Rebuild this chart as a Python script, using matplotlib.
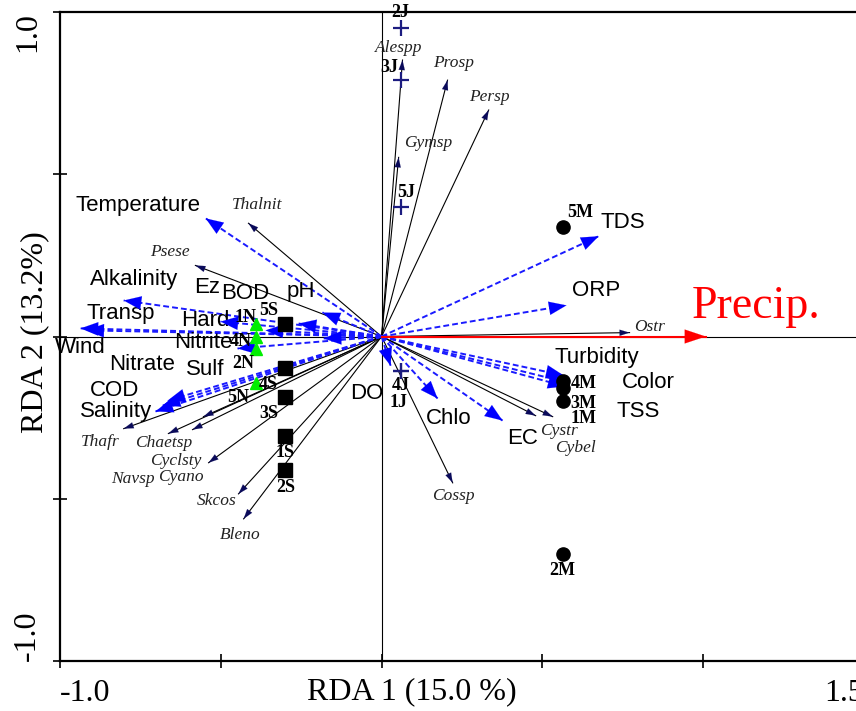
import matplotlib
matplotlib.use('Agg')
import matplotlib.pyplot as plt

serif = 'Liberation Serif'
sans = 'Liberation Sans'

# environmental variables: arrow tips and label centres (RDA1, RDA2)
env_names = ['Temperature', 'Alkalinity', 'Transp', 'Wind', 'Hard', 'Ez', 'BOD', 'pH',
             'Nitrite', 'Sulf', 'Nitrate', 'COD', 'Salinity', 'DO', 'Chlo', 'EC',
             'Turbidity', 'Color', 'TSS', 'TDS', 'ORP']
env_x = [-0.547, -0.802, -0.936, -0.918, -0.501, -0.258, -0.361, -0.184,
         -0.448, -0.180, -0.666, -0.681, -0.703, 0.028, 0.174, 0.376,
         0.566, 0.579, 0.572, 0.675, 0.575]
env_y = [0.364, 0.111, 0.025, 0.019, 0.046, 0.040, 0.019, 0.074,
         -0.037, -0.006, -0.198, -0.213, -0.231, -0.090, -0.191, -0.259,
         -0.120, -0.142, -0.154, 0.309, 0.096]
env_lab_x = [-0.759, -0.771, -0.812, -0.936, -0.547, -0.541, -0.423, -0.252,
             -0.554, -0.547, -0.746, -0.830, -0.827, -0.047, 0.208, 0.439,
             0.670, 0.830, 0.799, 0.750, 0.667]
env_lab_y = [0.404, 0.176, 0.071, -0.034, 0.049, 0.151, 0.133, 0.139,
             -0.019, -0.102, -0.086, -0.167, -0.231, -0.176, -0.253, -0.315,
             -0.065, -0.142, -0.231, 0.352, 0.142]

precip_x, precip_y = 1.008, 0.0
precip_lab = (1.163, 0.093)

# species arrows
sp_names = ['Alespp', 'Prosp', 'Persp', 'Gymsp', 'Thalnit', 'Psese', 'Ostr', 'Cystr',
            'Cybel', 'Cossp', 'Thafr', 'Chaetsp', 'Navsp', 'Cyano', 'Cyclsty',
            'Skcos', 'Bleno']
sp_x = [0.065, 0.205, 0.333, 0.053, -0.414, -0.579, 0.771, 0.479,
        0.532, 0.221, -0.802, -0.663, -0.588, -0.554, -0.538, -0.445, -0.429]
sp_y = [0.852, 0.790, 0.698, 0.552, 0.349, 0.219, 0.012, -0.244,
        -0.247, -0.451, -0.284, -0.299, -0.287, -0.247, -0.389, -0.485, -0.562]
sp_lab_x = [0.053, 0.224, 0.336, 0.146, -0.386, -0.659, 0.833, 0.551,
            0.603, 0.224, -0.874, -0.678, -0.772, -0.625, -0.641, -0.513, -0.439]
sp_lab_y = [0.889, 0.843, 0.738, 0.596, 0.404, 0.259, 0.028, -0.290,
            -0.343, -0.491, -0.324, -0.327, -0.438, -0.432, -0.383, -0.506, -0.611]

# samples
J_names = ['2J', '3J', '5J', '4J', '1J']
J_x = [0.059, 0.059, 0.059, 0.059, 0.059]
J_y = [0.951, 0.790, 0.398, -0.105, -0.105]
J_lab = [(0.059, 0.997), (0.025, 0.830), (0.078, 0.445), (0.059, -0.151), (0.053, -0.204)]

M_names = ['5M', '4M', '1M', '3M', '2M']
M_x = [0.563, 0.563, 0.563, 0.563, 0.563]
M_y = [0.336, -0.136, -0.160, -0.198, -0.670]
M_lab = [(0.616, 0.383), (0.628, -0.145), (0.628, -0.252), (0.628, -0.205), (0.563, -0.722)]

S_names = ['5S', '4S', '3S', '1S', '2S']
S_x = [-0.299, -0.299, -0.299, -0.299, -0.299]
S_y = [0.040, -0.096, -0.185, -0.306, -0.410]
S_lab = [(-0.352, 0.080), (-0.352, -0.148), (-0.352, -0.238), (-0.299, -0.358), (-0.299, -0.466)]

N_names = ['1N', '4N', '2N', '5N']
N_x = [-0.392, -0.392, -0.392, -0.392]
N_y = [0.040, -0.003, -0.037, -0.142]
N_lab = [(-0.423, 0.059), (-0.439, -0.015), (-0.429, -0.083), (-0.445, -0.188)]


def head(ax, x, y, color, hl, hw):
    # solid triangular arrow head at (x, y) pointing away from the origin
    ax.annotate('', xy=(x, y), xytext=(x * 0.97, y * 0.97),
                arrowprops=dict(arrowstyle=f'-|>,head_length={hl},head_width={hw}',
                                color=color, lw=0.1, shrinkA=0, shrinkB=0,
                                mutation_scale=1), zorder=4)


fig = plt.figure(figsize=(8.56, 7.11), dpi=100)
ax = fig.add_axes([60 / 856, 50 / 711, 804 / 856, 649 / 711])
ax.set_xlim(-1.0, 1.5)
ax.set_ylim(-1.0, 1.0)

ax.axhline(0, color='black', lw=0.8, zorder=1)
ax.axvline(0, color='black', lw=0.8, zorder=1)

# species arrows
for n, x, y, lx, ly in zip(sp_names, sp_x, sp_y, sp_lab_x, sp_lab_y):
    ax.plot([0, x], [0, y], color='black', lw=0.8, zorder=2)
    head(ax, x, y, '#0a0a5a', 7, 2.2)
    ax.text(lx, ly, n, family=serif, style='italic', fontsize=12.5,
            ha='center', va='center', color='#222222')

# environmental arrows
for n, x, y, lx, ly in zip(env_names, env_x, env_y, env_lab_x, env_lab_y):
    ax.plot([0, x], [0, y], color='#1a1aff', lw=1.4, ls=(0, (3, 1.6)), zorder=3)
    head(ax, x, y, '#0000ff', 12.5, 4.8)
    ax.text(lx, ly, n, family=sans, fontsize=16, ha='center', va='center')

ax.plot([0, precip_x], [0, precip_y], color='red', lw=1.5, zorder=3)
head(ax, precip_x, precip_y, 'red', 15, 5)
ax.text(precip_lab[0], precip_lab[1], 'Precip.', family=serif, fontsize=33,
        color='red', ha='center', va='center')

# samples
ax.plot(J_x, J_y, ls='none', marker='+', ms=12, mew=1.6, color='#1c1c80', zorder=5)
ax.plot(M_x, M_y, ls='none', marker='o', ms=9.5, color='black', zorder=5)
ax.plot(S_x, S_y, ls='none', marker='s', ms=9.5, color='black', zorder=5)
ax.plot(N_x, N_y, ls='none', marker='^', ms=8, color='#00ee00', zorder=5)
for names, labs in [(J_names, J_lab), (M_names, M_lab), (S_names, S_lab), (N_names, N_lab)]:
    for n, (lx, ly) in zip(names, labs):
        ax.text(lx, ly, n, family=serif, fontweight='bold', fontsize=13,
                ha='center', va='center', zorder=6)

# axes
for s in ['left', 'bottom', 'top']:
    ax.spines[s].set_linewidth(1.6)
ax.spines['right'].set_visible(False)
ax.set_xticks([-1.0, -0.5, 0, 0.5, 1.0, 1.5])
ax.set_xticklabels(['-1.0', '', '', '', '', '1.5'])
ax.set_yticks([-1.0, -0.5, 0, 0.5, 1.0])
ax.set_yticklabels(['-1.0', '', '', '', '1.0'], rotation=90)
ax.tick_params(direction='inout', length=10, width=1.2, labelsize=23, pad=8)
for t in ax.get_xticklabels() + ax.get_yticklabels():
    t.set_family(serif)
xl = ax.get_xticklabels()
xl[0].set_ha('left')
xl[-1].set_ha('right')
yl = ax.get_yticklabels()
yl[0].set_va('bottom')
yl[-1].set_va('top')

fig.text(412 / 856, 1 - 692 / 711, 'RDA 1 (15.0 %)', family=serif, fontsize=23,
         ha='center', va='center')
fig.text(35 / 856, 1 - 332 / 711, 'RDA 2 (13.2%)', family=serif, fontsize=23,
         rotation=90, ha='center', va='center')

fig.savefig('out.png', dpi=100)
